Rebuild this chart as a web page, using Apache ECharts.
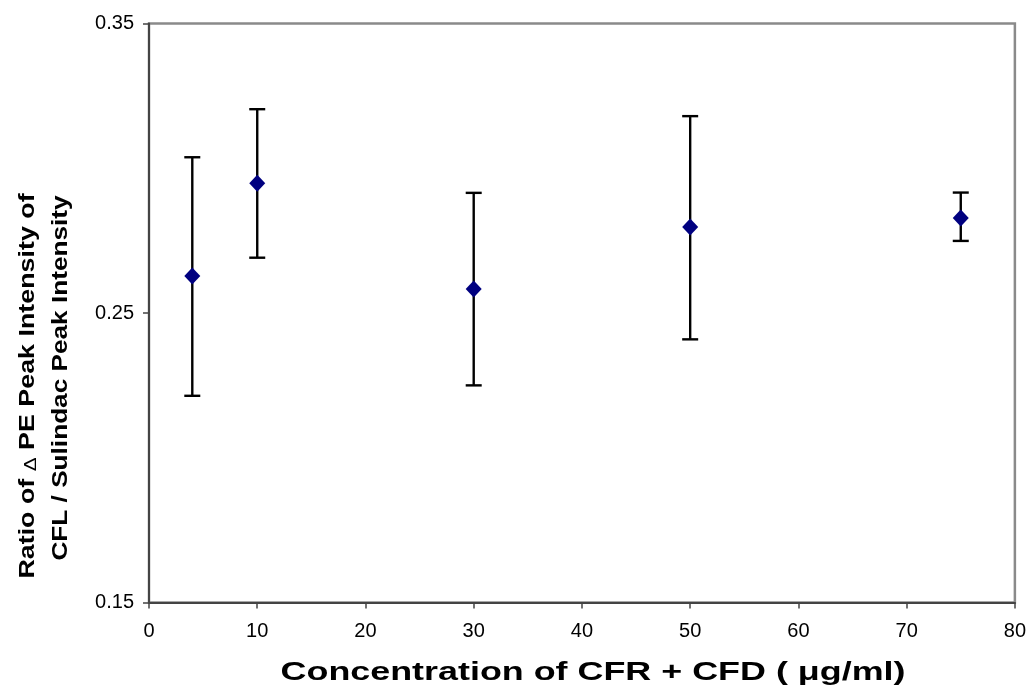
<!DOCTYPE html>
<html>
<head>
<meta charset="utf-8">
<script src="https://cdn.jsdelivr.net/npm/echarts@6/dist/echarts.min.js"></script>
<style>html,body{margin:0;padding:0;background:#fff;}#c{width:1029px;height:687px;}</style>
</head>
<body>
<div id="c"></div>
<script>
const concentrations = [4, 10, 30, 50, 75];
const ratioMean = [0.2628, 0.2948, 0.2583, 0.2797, 0.2828];
const ratioUpper = [0.3038, 0.3204, 0.2915, 0.3180, 0.2916];
const ratioLower = [0.2214, 0.2691, 0.2250, 0.2409, 0.2749];
const yTickValues = [0.15, 0.25, 0.35];
const xTitle = 'Concentration of CFR + CFD ( μg/ml)';
const yTitleLine1 = ['Ratio of ', 'Δ', ' PE Peak Intensity of'];
const yTitleLine2 = 'CFL / Sulindac Peak Intensity';

const chart = echarts.init(document.getElementById('c'), null, {renderer: 'canvas'});
const FONT = 'Liberation Sans, Arial, sans-serif';

const points = concentrations.map((x, i) => [x, ratioMean[i]]);
const bars = concentrations.map((x, i) => [x, ratioLower[i], ratioUpper[i]]);

chart.setOption({
  animation: false,
  backgroundColor: '#fff',
  grid: {left: 149, top: 23.5, right: 12, bottom: 84.5, show: true, borderColor: '#8a8a8a', borderWidth: 2.5, backgroundColor: 'transparent'},
  xAxis: {
    type: 'value', min: 0, max: 80, interval: 10,
    axisLine: {show: true, onZero: false, lineStyle: {color: '#444', width: 2}},
    axisTick: {show: true, length: 6, lineStyle: {color: '#444', width: 1.5}},
    axisLabel: {color: '#000', fontSize: 20, fontFamily: FONT, margin: 19},
    splitLine: {show: false}
  },
  yAxis: {
    type: 'value', min: 0.15, max: 0.35, interval: 0.05,
    axisLine: {show: true, onZero: false, lineStyle: {color: '#444', width: 2}},
    axisTick: {show: true, length: 6, lineStyle: {color: '#444', width: 1.5}, customValues: yTickValues},
    axisLabel: {color: '#000', fontSize: 20, fontFamily: FONT, margin: 15, customValues: yTickValues,
      formatter: v => v.toFixed(2)},
    splitLine: {show: false}
  },
  series: [
    {
      type: 'custom',
      data: bars,
      renderItem: function (params, api) {
        const x = api.value(0);
        const lo = api.coord([x, api.value(1)]);
        const hi = api.coord([x, api.value(2)]);
        const hw = 8;
        const style = {stroke: '#000', lineWidth: 2.4, fill: null};
        return {
          type: 'group',
          children: [
            {type: 'line', shape: {x1: lo[0], y1: lo[1], x2: hi[0], y2: hi[1]}, style: style},
            {type: 'line', shape: {x1: lo[0] - hw, y1: lo[1], x2: lo[0] + hw, y2: lo[1]}, style: style},
            {type: 'line', shape: {x1: hi[0] - hw, y1: hi[1], x2: hi[0] + hw, y2: hi[1]}, style: style}
          ]
        };
      },
      z: 2
    },
    {
      type: 'scatter',
      data: points,
      symbol: 'diamond',
      symbolSize: [16, 17],
      itemStyle: {color: '#000080', opacity: 1},
      z: 3
    }
  ],
  graphic: [
    {
      type: 'text', x: 593, y: 673, scaleX: 1.38,
      style: {text: xTitle, font: 'bold 26px ' + FONT, fill: '#000', textAlign: 'center', textVerticalAlign: 'middle'}
    },
    {
      type: 'text', x: 28, y: 386, rotation: Math.PI / 2, scaleX: 1.22,
      style: {
        text: '{a|' + yTitleLine1[0] + '}{d|' + yTitleLine1[1] + '}{a|' + yTitleLine1[2] + '}',
        textAlign: 'center', textVerticalAlign: 'middle',
        rich: {
          a: {font: 'bold 22px ' + FONT, fill: '#000'},
          d: {font: '17px ' + FONT, fill: '#000', padding: [7, 0, 0, 0]}
        }
      }
    },
    {
      type: 'text', x: 61, y: 378, rotation: Math.PI / 2, scaleX: 1.19,
      style: {text: yTitleLine2, font: 'bold 22px ' + FONT, fill: '#000', textAlign: 'center', textVerticalAlign: 'middle'}
    }
  ]
});
</script>
</body>
</html>
